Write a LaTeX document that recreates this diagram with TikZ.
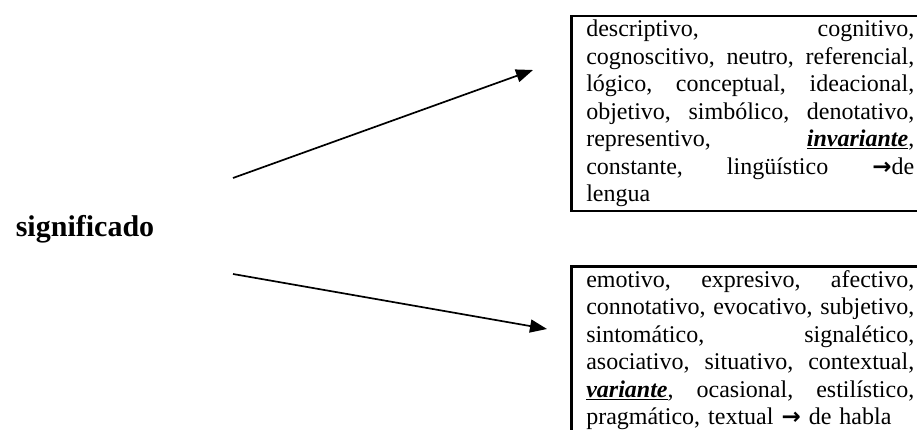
\documentclass[tikz,border=0pt]{standalone}
\usepackage{fontspec}
\setmainfont{Liberation Serif}
\newfontfamily\arrowfont{DejaVu Sans}
\usetikzlibrary{arrows.meta}
\newcommand{\jline}[1]{\hbox to \hsize{#1}\par}
\newcommand{\emphw}[1]{\underline{\textbf{\textit{#1}}}}
\newcommand{\warr}{{\arrowfont\bfseries\fontsize{23}{23}\selectfont →}}
\tikzset{
  listbox/.style={draw, line width=2.5pt, anchor=north west, text width=328pt,
    inner xsep=15pt, inner ysep=4pt, align=left,
    font=\fontsize{24}{27.5}\selectfont},
  conn/.style={line width=1.7pt, -{Triangle[length=17pt,width=13pt]}},
  title/.style={font=\fontsize{30}{30}\selectfont\bfseries}
}
\begin{document}
\begin{tikzpicture}[x=1pt,y=-1pt]
\useasboundingbox (0,0) rectangle (917,430);
\clip (0,0) rectangle (917,430);
\node[listbox] (top) at (570,15) {%
\jline{descriptivo,\hfill cognitivo,}
\jline{cognoscitivo,\hfill neutro,\hfill referencial,}
\jline{lógico,\hfill conceptual,\hfill ideacional,}
\jline{objetivo,\hfill simbólico,\hfill denotativo,}
\jline{representivo,\hfill \emphw{invariante},}
\jline{constante,\hfill lingüístico\hfill \warr de}
lengua};
\node[listbox] (bot) at (570,265) {%
\jline{emotivo,\hfill expresivo,\hfill afectivo,}
\jline{connotativo,\hfill evocativo,\hfill subjetivo,}
\jline{sintomático,\hfill signalético,}
\jline{asociativo,\hfill situativo,\hfill contextual,}
\jline{\emphw{variante},\hfill ocasional,\hfill estilístico,}
pragmático, textual \warr{} de habla};
\node[title] (sig) at (85,229) {significado};
\coordinate (u0) at (233,178);
\coordinate (u1) at (533,70);
\coordinate (l0) at (233,274);
\coordinate (l1) at (547,329);
\draw[conn] (u0) -- (u1);
\draw[conn] (l0) -- (l1);
\end{tikzpicture}
\end{document}
